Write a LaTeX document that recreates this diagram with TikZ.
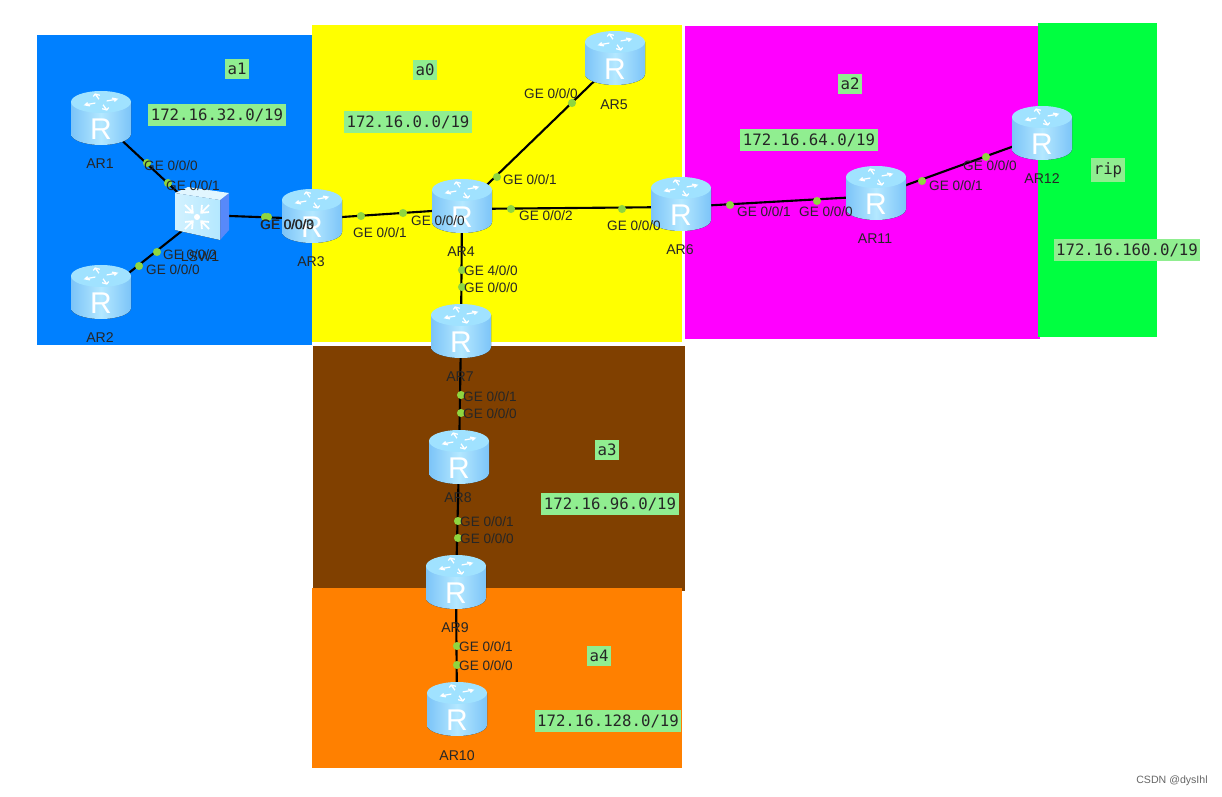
\documentclass[tikz,border=0pt]{standalone}
\usepackage{fontspec}
\setmainfont{Liberation Sans}
\newfontfamily\monofam{DejaVu Sans Mono}
\usepackage{tikz}
\usetikzlibrary{positioning}
\definecolor{regblue}{HTML}{0080FF}
\definecolor{regyellow}{HTML}{FFFF00}
\definecolor{regmagenta}{HTML}{FF00FF}
\definecolor{reggreen}{HTML}{00FF40}
\definecolor{regbrown}{HTML}{804000}
\definecolor{regorange}{HTML}{FF8000}
\definecolor{tagfill}{HTML}{90EE90}
\definecolor{portdot}{HTML}{8FD63F}
\definecolor{bodydark}{HTML}{7CC4F8}
\definecolor{bodylight}{HTML}{B4E8FF}
\definecolor{topfill}{HTML}{A0E2FF}
\tikzset{
	hub/.style={inner sep=0pt,minimum size=2pt},
	port/.style={circle,fill=portdot,inner sep=0pt,minimum size=4.6pt},
	gelabel/.style={font=\fontsize{7.7}{8}\selectfont,inner sep=0pt,text=black!85,yshift=-0.5pt},
	namelabel/.style={font=\fontsize{8}{9}\selectfont,inner sep=0pt,text=black!85,yshift=-0.5pt},
	tag/.style={fill=tagfill,font=\monofam\fontsize{8.9}{10}\selectfont,inner xsep=1.4pt,inner ysep=2.4pt,text=black!85},
	link/.style={line width=1.2pt},
	router/.pic={
		\fill[left color=bodydark,right color=bodydark,middle color=bodylight]
			(-30,-19) -- (-30,13) arc[start angle=180,end angle=0,x radius=30,y radius=11] -- (30,-19) -- cycle;
		\fill[topfill] (0,-19) ellipse[x radius=30,y radius=11];
		\foreach \ang in {20,110,200,290} {
			\begin{scope}[shift={(0,-19)},yscale=0.5,rotate=\ang]
				\draw[white,line width=0.7pt] (6,0)--(17,0) (13,-3.5)--(17,0)--(13,3.5);
			\end{scope}
		}
		\node[text=white,font=\fontsize{17}{17}\selectfont,inner sep=0pt] at (0,8) {R};
	},
	switchbox/.pic={
		\fill[bodydark!70!blue] (18,-15)--(27,-22)--(27,15)--(18,25)--cycle;
		\fill[left color=bodylight!60!white,right color=bodylight] (-27,-22)--(18,-15)--(18,25)--(-27,15)--cycle;
		\fill[white!60!bodylight] (-27,-22)--(-14,-28)--(27,-22)--(18,-15)--cycle;
		\foreach \ang in {45,135,225,315} {
			\begin{scope}[shift={(-5,2)},rotate=\ang]
				\draw[white,line width=1pt] (6,0)--(17,0) (12,-5)--(6,0)--(12,5);
			\end{scope}
		}
		\fill[white] (-5,2) circle(3);
	},
}
\begin{document}
\begin{tikzpicture}[x=0.567pt,y=-0.567pt]
	\useasboundingbox (0,0) rectangle (1222,797);
	\fill[white] (0,0) rectangle (1222,797);
	% areas
	\fill[regblue] (37,35) rectangle (312,345);
	\fill[regyellow] (312,25) rectangle (682,342);
	\fill[regmagenta] (685,26) rectangle (1040,339);
	\fill[reggreen] (1038,23) rectangle (1157,337);
	\fill[regbrown] (313,346) rectangle (685,591);
	\fill[regorange] (312,588) rectangle (682,768);
	% devices
	\node[hub] (ar1) at (101,121) {};
	\node[hub] (ar2) at (101,295) {};
	\node[hub] (ar3) at (312,219) {};
	\node[hub] (ar4) at (462,209) {};
	\node[hub] (ar5) at (615,61) {};
	\node[hub] (ar6) at (681,207) {};
	\node[hub] (ar7) at (461,334) {};
	\node[hub] (ar8) at (459,460) {};
	\node[hub] (ar9) at (456,585) {};
	\node[hub] (ar10) at (457,712) {};
	\node[hub] (ar11) at (876,196) {};
	\node[hub] (ar12) at (1042,136) {};
	\node[hub] (lsw1) at (202,215) {};
	% links
	\draw[link] (ar1)--(lsw1);
	\draw[link] (ar2)--(lsw1);
	\draw[link] (lsw1)--(ar3);
	\draw[link] (ar3)--(ar4);
	\draw[link] (ar4)--(ar5);
	\draw[link] (ar4)--(ar6);
	\draw[link] (ar4)--(ar7);
	\draw[link] (ar7)--(ar8);
	\draw[link] (ar8)--(ar9);
	\draw[link] (ar9)--(ar10);
	\draw[link] (ar6)--(ar11);
	\draw[link] (ar11)--(ar12);
	% icons
	\pic at (ar1) {router};
	\pic at (ar2) {router};
	\pic at (ar3) {router};
	\pic at (ar4) {router};
	\pic at (ar5) {router};
	\pic at (ar6) {router};
	\pic at (ar7) {router};
	\pic at (ar8) {router};
	\pic at (ar9) {router};
	\pic at (ar10) {router};
	\pic at (ar11) {router};
	\pic at (ar12) {router};
	\pic at (lsw1) {switchbox};
	% device names
	\node[namelabel] (n1) at (100,163) {AR1};
	\node[namelabel] (n2) at (100,337) {AR2};
	\node[namelabel] (n3) at (311,261) {AR3};
	\node[namelabel] (n4) at (461,251) {AR4};
	\node[namelabel] (n5) at (614,104) {AR5};
	\node[namelabel] (n6) at (680,249) {AR6};
	\node[namelabel] (n7) at (460,376) {AR7};
	\node[namelabel] (n8) at (458,497) {AR8};
	\node[namelabel] (n9) at (455,627) {AR9};
	\node[namelabel] (n10) at (457,755) {AR10};
	\node[namelabel] (n11) at (875,238) {AR11};
	\node[namelabel] (n12) at (1042,178) {AR12};
	\node[namelabel] (nsw) at (200,256) {LSW1};
	% ports
	\node[port] (p1) at (147,163) {};
	\node[port] (p2) at (168,183) {};
	\node[port] (p3) at (157,252) {};
	\node[port] (p4) at (139,266) {};
	\node[port] (p5) at (265,217) {};
	\node[port] (p6) at (268,217) {};
	\node[port] (p7) at (361,216) {};
	\node[port] (p8) at (403,213) {};
	\node[port] (p9) at (497,177) {};
	\node[port] (p10) at (572,103) {};
	\node[port] (p11) at (511,209) {};
	\node[port] (p12) at (622,209) {};
	\node[port] (p13) at (462,270) {};
	\node[port] (p14) at (462,287) {};
	\node[port] (p15) at (461,395) {};
	\node[port] (p16) at (461,413) {};
	\node[port] (p17) at (458,521) {};
	\node[port] (p18) at (458,538) {};
	\node[port] (p19) at (457,646) {};
	\node[port] (p20) at (457,665) {};
	\node[port] (p21) at (730,205) {};
	\node[port] (p22) at (817,201) {};
	\node[port] (p23) at (922,181) {};
	\node[port] (p24) at (986,157) {};
	% port labels
	\node[gelabel] (g1) at (171,165) {GE 0/0/0};
	\node[gelabel] (g2) at (193,185) {GE 0/0/1};
	\node[gelabel] (g3) at (190,254) {GE 0/0/2};
	\node[gelabel] (g4) at (173,269) {GE 0/0/0};
	\node[gelabel] (g5) at (287,224) {GE 0/0/3};
	\node[gelabel] (g6) at (287.5,224) {GE 0/0/0};
	\node[gelabel] (g7) at (380,232) {GE 0/0/1};
	\node[gelabel] (g8) at (438,220) {GE 0/0/0};
	\node[gelabel] (g9) at (530,179) {GE 0/0/1};
	\node[gelabel] (g10) at (551,93) {GE 0/0/0};
	\node[gelabel] (g11) at (546,215) {GE 0/0/2};
	\node[gelabel] (g12) at (634,225) {GE 0/0/0};
	\node[gelabel] (g13) at (491,270) {GE 4/0/0};
	\node[gelabel] (g14) at (491,287) {GE 0/0/0};
	\node[gelabel] (g15) at (490,396) {GE 0/0/1};
	\node[gelabel] (g16) at (490,413) {GE 0/0/0};
	\node[gelabel] (g17) at (487,521) {GE 0/0/1};
	\node[gelabel] (g18) at (487,538) {GE 0/0/0};
	\node[gelabel] (g19) at (486,646) {GE 0/0/1};
	\node[gelabel] (g20) at (486,665) {GE 0/0/0};
	\node[gelabel] (g21) at (764,211) {GE 0/0/1};
	\node[gelabel] (g22) at (826,211) {GE 0/0/0};
	\node[gelabel] (g23) at (956,185) {GE 0/0/1};
	\node[gelabel] (g24) at (990,165) {GE 0/0/0};
	% area tags
	\node[tag] (t1) at (237,69) {a1};
	\node[tag] (t2) at (217,115) {172.16.32.0/19};
	\node[tag] (t3) at (425,70) {a0};
	\node[tag] (t4) at (408,122) {172.16.0.0/19};
	\node[tag] (t5) at (850,84) {a2};
	\node[tag] (t6) at (809,140) {172.16.64.0/19};
	\node[tag] (t7) at (1108,170) {rip};
	\node[tag] (t8) at (1127,250) {172.16.160.0/19};
	\node[tag] (t9) at (607,450) {a3};
	\node[tag] (t10) at (610,504) {172.16.96.0/19};
	\node[tag] (t11) at (599,656) {a4};
	\node[tag] (t12) at (608,721) {172.16.128.0/19};
	\node[text=black!60,font=\fontsize{6}{7}\selectfont,inner sep=0pt] (mark) at (1172,781) {CSDN @dysIhl};
\end{tikzpicture}
\end{document}
